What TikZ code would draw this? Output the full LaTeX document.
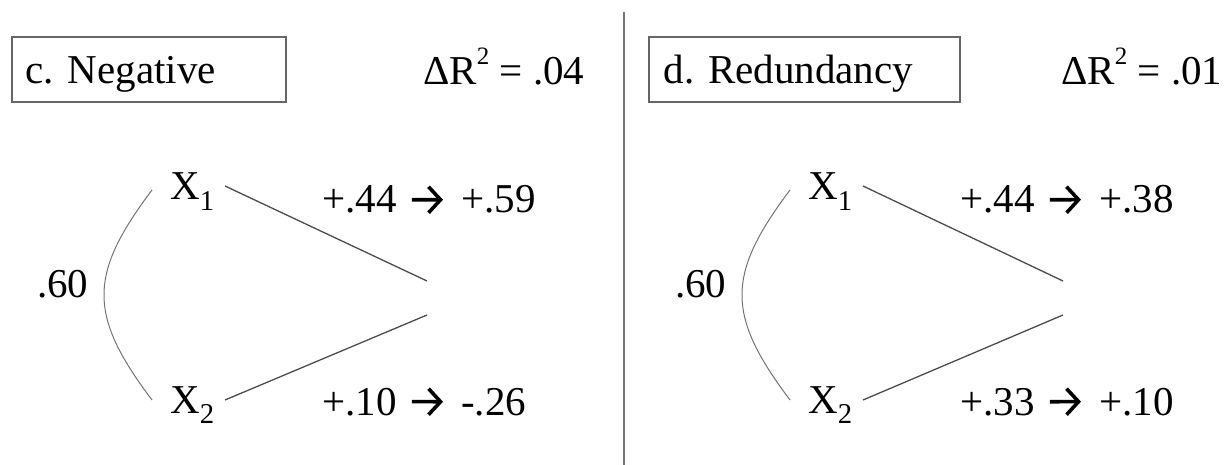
\documentclass[tikz,border=0pt]{standalone}
\usepackage{fontspec}
\setmainfont{Liberation Serif}
\usetikzlibrary{arrows.meta}
\newcommand{\suptwo}{\raisebox{20pt}{\fontsize{25}{25}\selectfont 2}}
\begin{document}
\frenchspacing
\begin{tikzpicture}[x=1pt,y=-1pt,
  every node/.style={inner sep=0pt, font=\fontsize{41}{48}\selectfont},
  lbl/.style={anchor=base west},
  titlebox/.style={draw=black!60, line width=1.5pt, anchor=west, align=left,
    inner xsep=14pt, minimum height=65pt, text height=28pt, text depth=0pt},
  path/.style={draw=black!70, line width=1.3pt},
  corr/.style={draw=black!55, line width=1pt},
  chg/.style={draw=black, line width=3.6pt,
    -{Straight Barb[length=12pt, width=26pt, line width=3.6pt]}}]
\useasboundingbox (0,0) rectangle (1229,465);
% divider
\coordinate (dtop) at (624,12);
\coordinate (dbot) at (624,465);
\draw[draw=black!55, line width=2pt] (dtop) -- (dbot);

% ---------- panel c ----------
\node[titlebox, text width=246pt] (cbox) at (11,69.5) {c. Negative};
\node[lbl] (cdr) at (423,85) {ΔR\suptwo{} = .04};
\node[lbl] (cx1) at (170,200) {X\textsubscript{1}};
\node[lbl] (cx2) at (170,413) {X\textsubscript{2}};
\node[lbl] (cr) at (37,298) {.60};
\node[lbl] (cb1a) at (322,213) {+.44};
\node[lbl] (cb1b) at (461,213) {+.59};
\node[lbl] (cb2a) at (322,415) {+.10};
\node[lbl] (cb2b) at (461,415) {-.26};
\draw[chg] ([xshift=15pt]cb1a.east) -- ([xshift=-18pt]cb1b.west);
\draw[chg] ([xshift=15pt]cb2a.east) -- ([xshift=-18pt]cb2b.west);
\coordinate (cc1) at (152,190);
\coordinate (cc2) at (152,400);
\coordinate (cl1) at (225,186);
\coordinate (cl2) at (225,400);
\coordinate (cy1) at (427,281);
\coordinate (cy2) at (427,315);
\draw[corr] (cc1) .. controls (122,230) and (104,262) .. (104,295)
  .. controls (104,328) and (122,360) .. (cc2);
\draw[path] (cl1) -- (cy1);
\draw[path] (cl2) -- (cy2);

% ---------- panel d ----------
\node[titlebox, inner xsep=15pt, text width=281pt] (dbox) at (648,69.5) {d. Redundancy};
\node[lbl] (ddr) at (1061,85) {ΔR\suptwo{} = .01};
\node[lbl] (dx1) at (808,200) {X\textsubscript{1}};
\node[lbl] (dx2) at (808,413) {X\textsubscript{2}};
\node[lbl] (dr) at (675,298) {.60};
\node[lbl] (db1a) at (960,213) {+.44};
\node[lbl] (db1b) at (1099,213) {+.38};
\node[lbl] (db2a) at (960,415) {+.33};
\node[lbl] (db2b) at (1099,415) {+.10};
\draw[chg] ([xshift=15pt]db1a.east) -- ([xshift=-18pt]db1b.west);
\draw[chg] ([xshift=15pt]db2a.east) -- ([xshift=-18pt]db2b.west);
\coordinate (dc1) at (790,190);
\coordinate (dc2) at (790,400);
\coordinate (dl1) at (863,186);
\coordinate (dl2) at (863,400);
\coordinate (dy1) at (1063,281);
\coordinate (dy2) at (1063,315);
\draw[corr] (dc1) .. controls (760,230) and (742,262) .. (742,295)
  .. controls (742,328) and (760,360) .. (dc2);
\draw[path] (dl1) -- (dy1);
\draw[path] (dl2) -- (dy2);
\end{tikzpicture}
\end{document}
